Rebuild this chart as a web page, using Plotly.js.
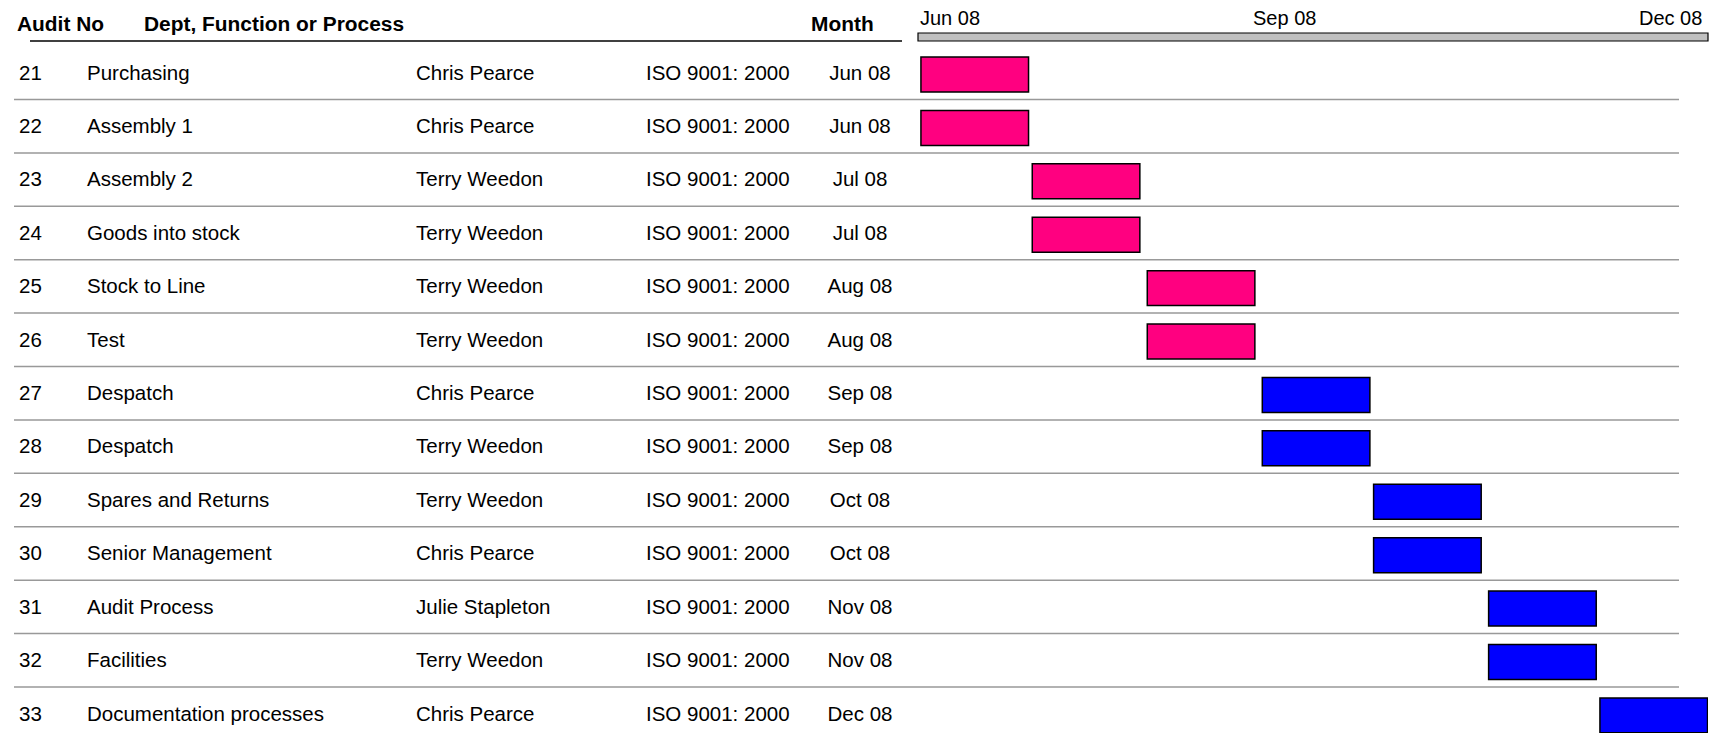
<!DOCTYPE html>
<html><head><meta charset="utf-8">
<script src="https://cdn.plot.ly/plotly-3.0.1.min.js"></script>
<style>html,body{margin:0;padding:0;background:#fff;overflow:hidden;} #chart{width:1713px;height:733px;}</style>
</head><body><div id="chart"></div>
<script>
// ---- data ----
const auditNo = ['21','22','23','24','25','26','27','28','29','30','31','32','33'];
const dept = ['Purchasing','Assembly 1','Assembly 2','Goods into stock','Stock to Line','Test','Despatch','Despatch','Spares and Returns','Senior Management','Audit Process','Facilities','Documentation processes'];
const auditor = ['Chris Pearce','Chris Pearce','Terry Weedon','Terry Weedon','Terry Weedon','Terry Weedon','Chris Pearce','Terry Weedon','Terry Weedon','Chris Pearce','Julie Stapleton','Terry Weedon','Chris Pearce'];
const standard = ['ISO 9001: 2000','ISO 9001: 2000','ISO 9001: 2000','ISO 9001: 2000','ISO 9001: 2000','ISO 9001: 2000','ISO 9001: 2000','ISO 9001: 2000','ISO 9001: 2000','ISO 9001: 2000','ISO 9001: 2000','ISO 9001: 2000','ISO 9001: 2000'];
const month = ['Jun 08','Jun 08','Jul 08','Jul 08','Aug 08','Aug 08','Sep 08','Sep 08','Oct 08','Oct 08','Nov 08','Nov 08','Dec 08'];
const startDates = ['2008-06-01','2008-06-01','2008-07-01','2008-07-01','2008-08-01','2008-08-01','2008-09-01','2008-09-01','2008-10-01','2008-10-01','2008-11-01','2008-11-01','2008-12-01'];
const endDates = ['2008-06-30','2008-06-30','2008-07-30','2008-07-30','2008-08-30','2008-08-30','2008-09-30','2008-09-30','2008-10-30','2008-10-30','2008-11-30','2008-11-30','2008-12-30'];
const status = ['done','done','done','done','done','done','planned','planned','planned','planned','planned','planned','planned'];
const headerLabels = ['Audit No','Dept, Function or Process','Month'];
const timeLabels = ['Jun 08','Sep 08','Dec 08'];
const timeLabelDates = ['2008-06-01','2008-09-07','2008-12-30'];
const timeRange = ['2008-05-31 05:00','2008-12-30 03:00'];

// ---- styles ----
const FONT = '"Liberation Sans", Arial, sans-serif';
const W = 1713, H = 733;
const statusColor = {done:'#FF0080', planned:'#0000FF'};
const rows = auditNo.map((_, i) => i);

const durations = startDates.map((s, i) => (new Date(endDates[i] + 'T00:00:00Z') - new Date(s + 'T00:00:00Z')));

const textTrace = (vals, xpx, pos) => ({
  type:'scatter', mode:'text', xaxis:'x2', yaxis:'y',
  x: vals.map(() => xpx), y: rows, text: vals,
  textposition: pos, cliponaxis:false, hoverinfo:'skip', showlegend:false,
  textfont:{family:FONT, size:20.5, color:'#000'}
});

const traces = [
  {
    type:'bar', orientation:'h', xaxis:'x', yaxis:'y',
    y: rows, x: durations, base: startDates,
    width: 0.655,
    marker:{color: status.map(s => statusColor[s]), line:{color:'#000', width:1.5}},
    hoverinfo:'skip', showlegend:false
  },
  textTrace(auditNo, 19, 'middle right'),
  textTrace(dept, 87, 'middle right'),
  textTrace(auditor, 416, 'middle right'),
  textTrace(standard, 646, 'middle right'),
  textTrace(month, 860, 'middle center')
];

const shapes = [];
// row separators
for (let k = 0; k < rows.length - 1; k++) {
  shapes.push({type:'line', xref:'paper', yref:'y', x0:14/W, x1:1679/W, y0:k+0.468, y1:k+0.468,
    line:{color:'#999999', width:1.5}, layer:'below'});
}
// header underline
shapes.push({type:'line', xref:'paper', yref:'y', x0:30/W, x1:902/W, y0:-0.627, y1:-0.627, line:{color:'#000', width:1.5}});
// timeline header bar
shapes.push({type:'rect', xref:'x domain', yref:'y', x0:0, x1:1, y0:-0.777, y1:-0.627,
  fillcolor:'#C0C0C0', line:{color:'#000', width:1.2}});

const annotations = [];
const headerX = [15, 142, 842];
const headerAnchor = ['left','left','center'];
headerLabels.forEach((t, i) => annotations.push({
  xref:'x2', yref:'y', x:headerX[i], y:-0.95, text:'<b>'+t+'</b>', showarrow:false,
  xanchor:headerAnchor[i], yanchor:'middle', font:{family:FONT, size:20.9, color:'#000'}
}));
const tAnchor = ['left','center','right'];
timeLabels.forEach((t, i) => annotations.push({
  xref:'x', yref:'y', x:timeLabelDates[i], y:-1.05, text:t, showarrow:false,
  xanchor:tAnchor[i], yanchor:'middle', xshift: i===0 ? -3 : (i===2 ? -4 : 0),
  font:{family:FONT, size:20, color:'#000'}
}));

const layout = {
  width:W, height:H, margin:{l:0, r:0, t:0, b:0},
  paper_bgcolor:'#fff', plot_bgcolor:'rgba(0,0,0,0)',
  showlegend:false,
  xaxis:{type:'date', range:timeRange, domain:[918/W, 1708/W], anchor:'y', visible:false, fixedrange:true},
  xaxis2:{range:[0, W], domain:[0,1], anchor:'y', visible:false, fixedrange:true},
  yaxis:{range:[12.33, -1.395], anchor:'x', visible:false, fixedrange:true},
  shapes, annotations, bargap:0
};

Plotly.newPlot('chart', traces, layout, {staticPlot:true, displayModeBar:false});
</script>
</body></html>
